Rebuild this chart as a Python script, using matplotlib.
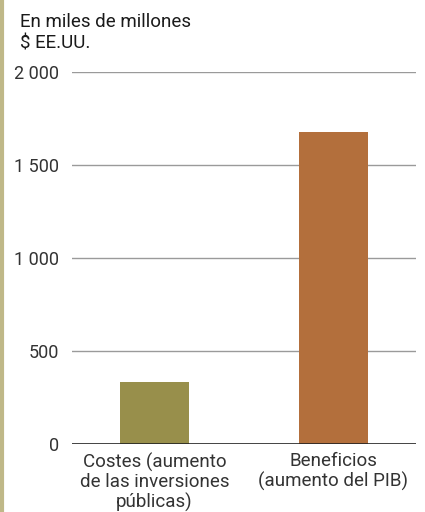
import matplotlib
matplotlib.use("Agg")
import matplotlib.pyplot as plt
from matplotlib.lines import Line2D

categories = ["Costes (aumento\nde las inversiones\npúblicas)", "Beneficios\n(aumento del PIB)"]
values = [335, 1677]
colors = ["#988f4b", "#b36f3c"]
yticks = [0, 500, 1000, 1500, 2000]
yticklabels = ["0", "500", "1 000", "1 500", "2 000"]

plt.rcParams['font.family'] = ['Roboto', 'DejaVu Sans']

fig = plt.figure(figsize=(4.25, 5.12), dpi=100)
W, H = 425, 512
ax = fig.add_axes([72 / W, 1 - 444 / H, (416 - 72) / W, (444 - 72) / H])

x = range(len(categories))
for yv in yticks[1:]:
    ax.axhline(yv, color="#9a9a9a", lw=1.0, zorder=1)
ax.bar(x, values, width=0.385, color=colors, zorder=2)
ax.axhline(0, color="#222222", lw=1.2, zorder=3)

ax.set_xlim(-0.461, 1.461)
ax.set_ylim(0, 2000)
ax.set_yticks(yticks)
ax.set_yticklabels(yticklabels, fontsize=13, color="#333333")
ax.set_xticks(list(x))
ax.set_xticklabels(categories, fontsize=13.5, color="#333333", linespacing=1.12)
ax.tick_params(axis='y', length=0, pad=9)
ax.tick_params(axis='x', length=0, pad=6)
for s in ax.spines.values():
    s.set_visible(False)

fig.text(20 / W, 1 - 13 / H, "En miles de millones\n$ EE.UU.", fontsize=13.5,
         color="#1a1a1a", va="top", ha="left", linespacing=1.25)

fig.add_artist(Line2D([1.5 / W, 1.5 / W], [0, 1], color="#bfb888", lw=3,
                      transform=fig.transFigure))

fig.savefig("out.png", dpi=100)
